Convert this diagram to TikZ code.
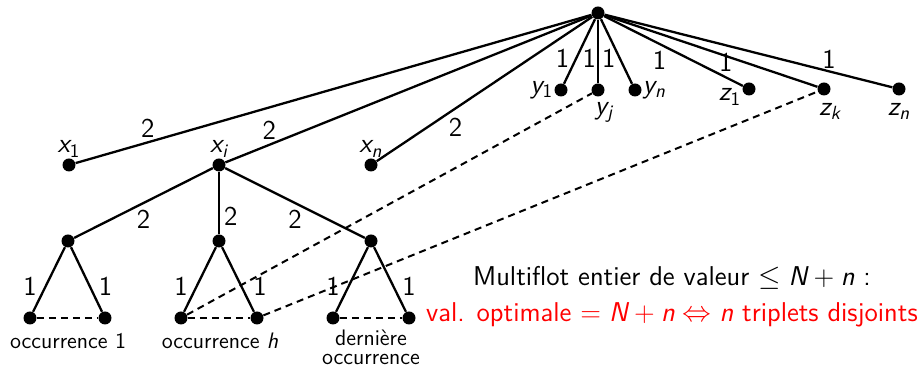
\documentclass[tikz,border=0pt]{standalone}
\usepackage{amsmath}
\usepackage{amssymb}
\usepackage{tikz}
\renewcommand{\familydefault}{\sfdefault}
\SetSymbolFont{letters}{normal}{TU}{lmss}{m}{it}
\SetSymbolFont{operators}{normal}{TU}{lmss}{m}{n}
\tikzstyle{vertex} = [circle, fill=black, inner sep=0pt, minimum size=6.5pt]
\tikzstyle{edge} = [line width=1.15pt]
\tikzstyle{pairing} = [line width=1pt, dash pattern=on 3.5pt off 2.5pt]
\tikzstyle{weight} = [inner sep=1pt]
\tikzstyle{occ} = [font=\fontsize{11.2}{9.6}\selectfont, align=center, inner sep=0pt]

\begin{document}
\begin{tikzpicture}[x=0.5pt, y=-0.5pt, font=\fontsize{13.6}{16}\selectfont, label distance=-3pt]
    \useasboundingbox (0,0) rectangle (923,368);
    \node[vertex] (r) at (598,13) {};
    % sommets x
    \node[vertex, label=above:{$x_1$}] (x1) at (69,165) {};
    \node[vertex, label=above:{$x_i$}] (xi) at (219,165) {};
    \node[vertex, label=above:{$x_n$}] (xn) at (371,165) {};
    % sommets y et z
    \node[vertex, label=left:{$y_1$}] (y1) at (561,90) {};
    \node[vertex, label={[xshift=3pt, yshift=-2pt]below:{$y_j$}}] (yj) at (598,90) {};
    \node[vertex, label=right:{$y_n$}] (yn) at (635,90) {};
    \node[vertex, label={[yshift=-4pt]left:{$z_1$}}] (z1) at (749,89) {};
    \node[vertex, label={[xshift=3pt, yshift=-3pt]below:{$z_k$}}] (zk) at (824,89) {};
    \node[vertex, label={[yshift=-3pt]below:{$z_n$}}] (zn) at (899,89) {};
    % gadget de x_i
    \node[vertex] (a1) at (68,241) {};
    \node[vertex] (a2) at (219,241) {};
    \node[vertex] (a3) at (371,241) {};
    \node[vertex] (l1) at (30,318) {};
    \node[vertex] (r1) at (105,318) {};
    \node[vertex] (l2) at (181,318) {};
    \node[vertex] (r2) at (257,318) {};
    \node[vertex] (l3) at (333,318) {};
    \node[vertex] (r3) at (409,318) {};
    \draw[edge] (r) -- node[weight, pos=0.86, above=1pt] {2} (x1);
    \draw[edge] (r) -- node[weight, pos=0.88, above=1pt] {2} (xi);
    \draw[edge] (r) -- node[weight, pos=0.68, below right] {2} (xn);
    \draw[edge] (r) -- node[weight, pos=0.6, left=2pt] {1} (y1);
    \draw[edge] (r) -- node[weight, pos=0.6, left=-0.5pt] {1} (yj);
    \draw[edge] (r) -- node[weight, pos=0.6, left=0.5pt] {1} (yn);
    \draw[edge] (r) -- node[weight, pos=0.4, below=2pt] {1} (z1);
    \draw[edge] (r) -- node[weight, pos=0.57, yshift=-3pt] {1} (zk);
    \draw[edge] (r) -- node[weight, pos=0.78, above] {1} (zn);
    \draw[edge] (xi) -- node[weight, pos=0.5, below=2pt] {2} (a1);
    \draw[edge] (xi) -- node[weight, pos=0.72, right=1pt] {2} (a2);
    \draw[edge] (xi) -- node[weight, pos=0.5, below=2pt] {2} (a3);
    \draw[edge] (a1) -- node[weight, pos=0.6, left=3pt] {1} (l1);
    \draw[edge] (a1) -- node[weight, pos=0.6, right=3pt] {1} (r1);
    \draw[edge] (a2) -- node[weight, pos=0.6, left=3pt] {1} (l2);
    \draw[edge] (a2) -- node[weight, pos=0.6, right=4.5pt] {1} (r2);
    \draw[edge] (a3) -- node[weight, pos=0.6, left=3pt] {1} (l3);
    \draw[edge] (a3) -- node[weight, pos=0.6, right=3pt] {1} (r3);
    \draw[pairing] (l1) -- (r1);
    \draw[pairing] (l2) -- (r2);
    \draw[pairing] (l3) -- (r3);
    \draw[pairing] (l2) -- (yj);
    \draw[pairing] (r2) -- (zk);
    % legendes
    \node[occ] (o1) at (68,341) {occurrence 1};
    \node[occ] (o2) at (220,341) {occurrence $h$};
    \node[occ] (o3) at (371,347) {derni\`ere\\occurrence};
    \node (cap) at (672,278) {Multiflot entier de valeur $\leq N+n$ :};
    \node[red] (res) at (672,315) {val. optimale $= N+n \Leftrightarrow n$ triplets disjoints};
\end{tikzpicture}
\end{document}
